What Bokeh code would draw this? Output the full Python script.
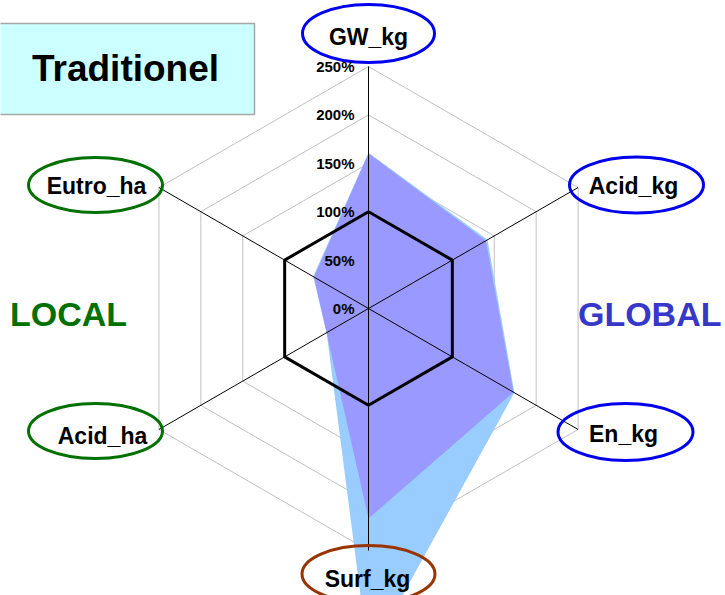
import numpy as np
from bokeh.plotting import figure
from bokeh.models import Range1d, Label
from bokeh.embed import file_html
from bokeh.resources import INLINE

# ---------------- data ----------------
axes_names = ["GW_kg", "Acid_kg", "En_kg", "Surf_kg", "Acid_ha", "Eutro_ha"]
series_light = [161, 142, 174, 360, 50, 66]    # light blue series (%)
series_purple = [160, 140, 173, 217, 50, 65]   # purple series (%)
reference_level = 100
grid_levels = [50, 150, 200, 250]
tick_values = [0, 50, 100, 150, 200, 250]
tick_labels = ["0%", "50%", "100%", "150%", "200%", "250%"]
group_labels = ["LOCAL", "GLOBAL"]
title_text = "Traditionel"

# ---------------- geometry (page pixels -> data units) ----------------
PX = 0.968            # pixels per percent
CX, CY = 368.0, 308.0  # centre of the radar in reference pixels
W, H = 725, 595
OFF = 0


def dx(X):
    return (X - CX) / PX


def dy(Y):
    return (CY - Y) / PX


n = len(axes_names)
angles = np.radians(90 - 60 * np.arange(n))
cosA, sinA = np.cos(angles), np.sin(angles)


def poly(vals):
    v = np.asarray(vals, dtype=float)
    return list(v * cosA), list(v * sinA)


p = figure(width=W, height=H, output_backend="svg", toolbar_location=None,
           x_range=Range1d(dx(OFF), dx(OFF + W)),
           y_range=Range1d(dy(OFF + H), dy(OFF)),
           x_axis_location=None, y_axis_location=None, min_border=0)
p.grid.visible = False
p.outline_line_color = None
p.background_fill_color = "white"

FONT = "Liberation Sans"

# title box
p.quad(left=dx(-4), right=dx(254), top=dy(23), bottom=dy(114),
       fill_color="#CCFFFF", line_color="#A6A6A6", line_width=1.5)
p.add_layout(Label(x=dx(125), y=dy(68), text=title_text, text_font=FONT,
                   text_font_style="bold", text_font_size="37px",
                   text_align="center", text_baseline="middle", text_color="black"))

# grid hexagons
for lv in grid_levels:
    gx, gy = poly([lv] * n)
    p.patch(gx + [gx[0]], gy + [gy[0]], fill_color=None, line_color="#C0C0C0", line_width=1)

# filled series
lx, ly = poly(series_light)
p.patch(lx, ly, fill_color="#99CCFF", line_color=None)
px_, py_ = poly(series_purple)
p.patch(px_, py_, fill_color="#9999FF", line_color=None)

# spokes
R = max(tick_values)
for i in range(n):
    p.line([0, R * cosA[i]], [0, R * sinA[i]], line_color="black", line_width=1)

# 100% reference hexagon
hx, hy = poly([reference_level] * n)
p.line(hx + [hx[0]], hy + [hy[0]], line_color="black", line_width=3)

# tick labels
for tv, tl in zip(tick_values, tick_labels):
    p.add_layout(Label(x=dx(354), y=tv, text=tl, text_font=FONT,
                       text_font_style="bold", text_font_size="15px",
                       text_align="right", text_baseline="middle", text_color="black"))

# axis name ellipses (layout positions in reference pixels)
ell = {
    "GW_kg":    (368, 33, 132, 58, "#0000EE", 368, 36.5),
    "Acid_kg":  (636, 184.5, 134, 56, "#0000EE", 633, 185.5),
    "En_kg":    (625, 431.5, 135, 57, "#0000EE", 623, 433.5),
    "Surf_kg":  (368, 573.5, 133, 57, "#993300", 367, 578.5),
    "Acid_ha":  (95, 430.5, 134, 55, "#007000", 102, 435),
    "Eutro_ha": (95, 184.5, 134, 55, "#007000", 96, 185.5),
}
for name in axes_names:
    ex, ey, ew, eh, col, tx, ty = ell[name]
    p.ellipse(x=dx(ex), y=dy(ey), width=ew / PX, height=eh / PX,
              fill_color=None, line_color=col, line_width=3)
    p.add_layout(Label(x=dx(tx), y=dy(ty), text=name, text_font=FONT,
                       text_font_style="bold", text_font_size="23px",
                       text_align="center", text_baseline="middle", text_color="black"))

# group labels
p.add_layout(Label(x=dx(68), y=dy(313), text=group_labels[0], text_font=FONT,
                   text_font_style="bold", text_font_size="34px",
                   text_align="center", text_baseline="middle", text_color="#007000"))
p.add_layout(Label(x=dx(721), y=dy(313), text=group_labels[1], text_font=FONT,
                   text_font_style="bold", text_font_size="34px",
                   text_align="right", text_baseline="middle", text_color="#3838C8"))

open("out.html", "w").write(file_html(p, INLINE))
